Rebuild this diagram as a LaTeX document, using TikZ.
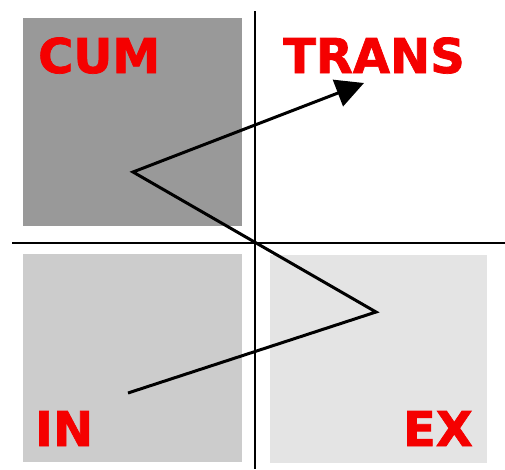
\documentclass[tikz,border=0pt]{standalone}
\usepackage{fontspec}
\setmainfont{DejaVu Sans}
\newfontfamily\heavyfont[FakeBold=1.5]{DejaVu Sans Bold}
\usetikzlibrary{arrows.meta}
\definecolor{quadDark}{RGB}{153,153,153}
\definecolor{quadMid}{RGB}{204,204,204}
\definecolor{quadLight}{RGB}{228,228,228}
\definecolor{labelRed}{RGB}{245,0,0}
\tikzset{
  quad/.style={draw=none, inner sep=0pt, anchor=north west, minimum width=219pt, minimum height=208pt},
  quadlabel/.style={inner sep=0pt, text=labelRed, font=\fontsize{48}{48}\heavyfont},
  axis/.style={line width=1.5pt},
  zigzag/.style={line width=3pt, line join=miter, -{Triangle[length=28pt,width=28pt]}}
}
\begin{document}
\begin{tikzpicture}[x=1pt, y=-1pt]
    \useasboundingbox (0,0) rectangle (505,469);

    % Quadrants
    \node[quad, fill=quadDark] (cumbox) at (23,18) {};
    \node[quad, fill=quadMid] (inbox) at (23,254) {};
    \node[quad, fill=quadLight, minimum width=217pt] (exbox) at (270,255) {};

    % Axes
    \coordinate (vtop) at (255,11);
    \coordinate (vbot) at (255,469);
    \coordinate (hleft) at (12,243);
    \coordinate (hright) at (505,243);
    \draw[axis] (vtop) -- (vbot);
    \draw[axis] (hleft) -- (hright);

    % Labels
    \node[quadlabel, anchor=base west] (cum) at (38,73) {CUM};
    \node[quadlabel, anchor=base west] (trans) at (283,73) {TRANS};
    \node[quadlabel, anchor=base west] (in) at (35,446) {IN};
    \node[quadlabel, anchor=base east] (ex) at (473,446) {EX};

    % Path from IN to TRANS
    \coordinate (start) at (128,393);
    \coordinate (turnex) at (376,312);
    \coordinate (turncum) at (133,172);
    \coordinate (tip) at (364,83);
    \draw[zigzag] (start) -- (turnex) -- (turncum) -- (tip);
\end{tikzpicture}
\end{document}
